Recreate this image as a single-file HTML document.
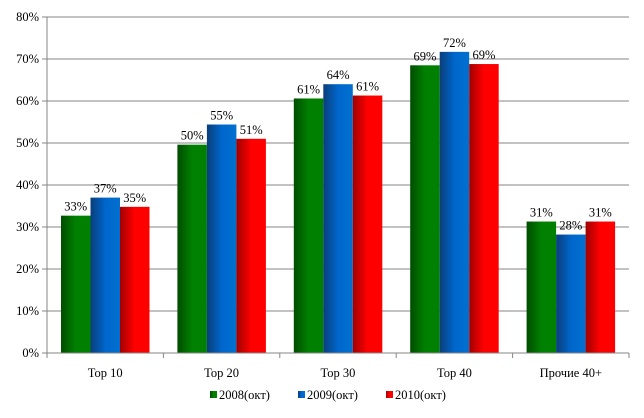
<!DOCTYPE html>
<html><head><meta charset="utf-8"><style>
html,body{margin:0;padding:0;background:#fff;width:644px;height:418px;overflow:hidden}
svg text{font-family:"Liberation Serif","Times New Roman",serif;font-size:12.5px;fill:#000}
</style></head><body>
<svg id="chart" width="644" height="418" viewBox="0 0 644 418" xmlns="http://www.w3.org/2000/svg" font-family="Liberation Serif, serif">
<defs>
<linearGradient id="gG" x1="0" x2="1" y1="0" y2="0"><stop offset="0" stop-color="#004d00"/><stop offset="0.5" stop-color="#008000"/><stop offset="1" stop-color="#008000"/></linearGradient>
<linearGradient id="gB" x1="0" x2="1" y1="0" y2="0"><stop offset="0" stop-color="#0a3e7a"/><stop offset="0.5" stop-color="#0066cc"/><stop offset="1" stop-color="#0070d0"/></linearGradient>
<linearGradient id="gR" x1="0" x2="1" y1="0" y2="0"><stop offset="0" stop-color="#a00000"/><stop offset="0.5" stop-color="#ff0000"/><stop offset="1" stop-color="#ff0000"/></linearGradient>
</defs>
<g id="grid"></g><g id="bars"></g><g id="axes"></g><g id="legend"></g>
</svg>
<script>
const categories = ["Top 10","Top 20","Top 30","Top 40","Прочие 40+"];
const series2008 = [32.7,49.6,60.6,68.5,31.3];
const series2009 = [37.0,54.4,64.0,71.7,28.2];
const series2010 = [34.8,51.0,61.3,68.8,31.3];
const valueLabels2008 = ["33%","50%","61%","69%","31%"];
const valueLabels2009 = ["37%","55%","64%","72%","28%"];
const valueLabels2010 = ["35%","51%","61%","69%","31%"];
const yTicks = [0,10,20,30,40,50,60,70,80];
const seriesNames = ["2008(окт)","2009(окт)","2010(окт)"];

const NS="http://www.w3.org/2000/svg";
const X0=47,X1=629,Y0=353,Y1=17,YMAX=80;
const catW=(X1-X0)/categories.length, barW=29.5, pad=14;
const y=v=>Y0-(v/YMAX)*(Y0-Y1);
const xBar=(i,s)=>X0+i*catW+pad+s*barW;
function mk(tag,attrs,parent){const e=document.createElementNS(NS,tag);for(const k in attrs)e.setAttribute(k,attrs[k]);parent.appendChild(e);return e;}
const FF="Liberation Serif, Times New Roman, serif";
const grid=document.getElementById('grid'),bars=document.getElementById('bars'),axes=document.getElementById('axes'),legend=document.getElementById('legend');
yTicks.forEach(t=>{
  if(t>0){const l=mk('line',{x1:X0,x2:X1,y1:y(t),y2:y(t),stroke:'#868686','stroke-width':1},grid);
  
  }
  const tk=mk('line',{x1:X0-5,x2:X0,y1:y(t),y2:y(t),stroke:'#868686'},axes);
  
  
  const tx=mk('text',{x:X0-8,y:y(t)+4,'text-anchor':'end','font-family':FF},axes);tx.textContent=t+'%';
  
  
});
const all=[series2008,series2009,series2010],labs=[valueLabels2008,valueLabels2009,valueLabels2010],fills=['url(#gG)','url(#gB)','url(#gR)'];
categories.forEach((c,i)=>{
  all.forEach((ser,s)=>{
    const r=mk('rect',{x:xBar(i,s),y:y(ser[i]),width:barW,height:Y0-y(ser[i]),fill:fills[s]},bars);
    
    
    const t=mk('text',{x:xBar(i,s)+barW/2,y:y(ser[i])-5,'text-anchor':'middle','font-family':FF},bars);t.textContent=labs[s][i];
    
    
  });
  const ct=mk('text',{x:X0+(i+0.5)*catW,y:377,'text-anchor':'middle','font-family':FF},axes);ct.textContent=c;
  
  
});
for(let i=0;i<=categories.length;i++){
  const tk=mk('line',{x1:X0+i*catW,x2:X0+i*catW,y1:Y0,y2:Y0+5,stroke:'#868686'},axes);
  
  
}
const ya=mk('line',{x1:X0,x2:X0,y1:Y1,y2:Y0,stroke:'#868686'},axes);


const xa=mk('line',{x1:X0,x2:X1,y1:Y0,y2:Y0,stroke:'#868686'},axes);


const lx=[210,298,386];
seriesNames.forEach((n,s)=>{
  const g=mk('g',{},legend);
  
  
  mk('rect',{x:lx[s],y:391,width:7,height:7,fill:fills[s]},g);
  const t=mk('text',{x:lx[s]+9,y:399,'font-family':FF},g);t.textContent=n;
});
</script>
</body></html>
